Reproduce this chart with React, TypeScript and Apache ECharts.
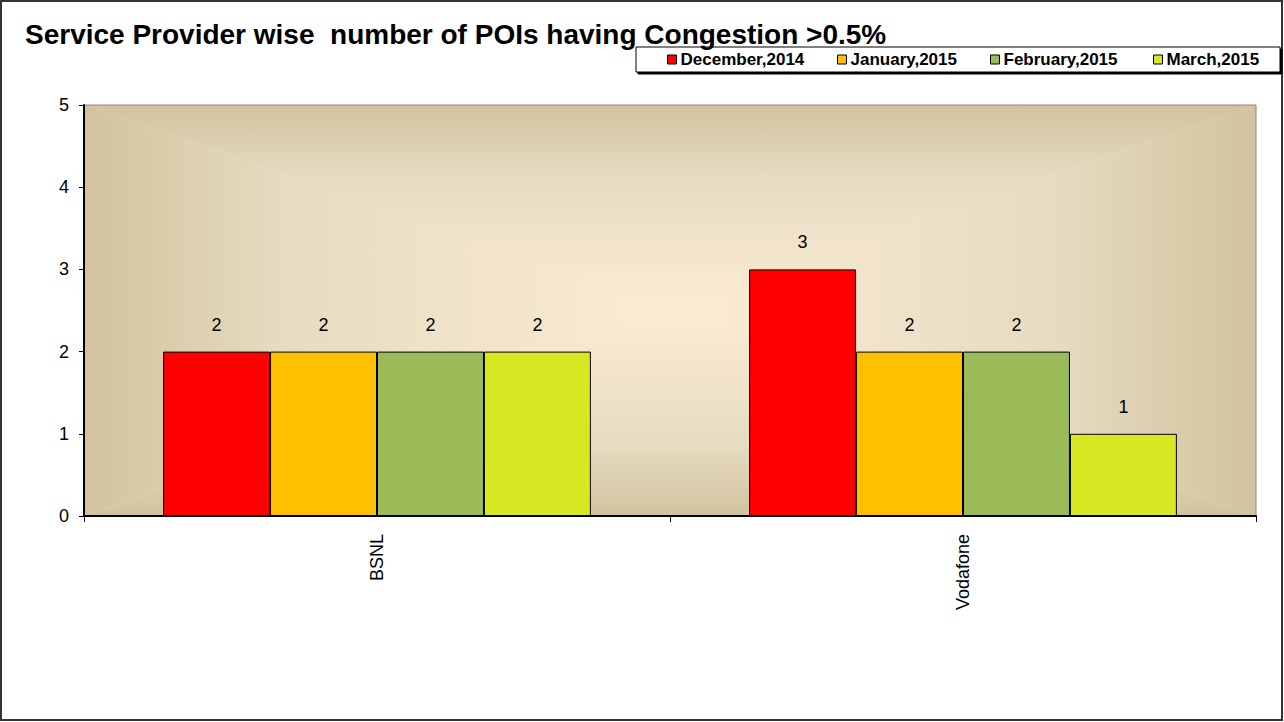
import React, { useEffect, useRef } from "react";
import * as echarts from "echarts";

const titleText = "Service Provider wise  number of POIs having Congestion >0.5%";
const categories = ["BSNL", "Vodafone"];
const seriesNames = ["December,2014", "January,2015", "February,2015", "March,2015"];
const dec2014 = [2, 3];
const jan2015 = [2, 2];
const feb2015 = [2, 2];
const mar2015 = [2, 1];
const seriesValues = [dec2014, jan2015, feb2015, mar2015];
const seriesColors = ["#FF0000", "#FFC000", "#9BBB59", "#D7E823"];
const yTicks = [0, 1, 2, 3, 4, 5];

const FONT = "'Liberation Sans', Arial, sans-serif";

export default function App() {
  const ref = useRef<HTMLDivElement>(null);
  useEffect(() => {
    if (!ref.current) return;
    const chart = echarts.init(ref.current, null, { renderer: "svg" });
    const L = 84, R = 1256, T = 105, B = 516;
    const cx = (L + R) / 2, cy = (T + B) / 2;
    const edge = "#d2c39e";
    const mid = "#e6dcc1";
    const center = "#fcecd4";
    const lg = (x1: number, y1: number, x2: number, y2: number) =>
      new echarts.graphic.LinearGradient(x1, y1, x2, y2, [
        { offset: 0, color: edge },
        { offset: 0.35, color: mid },
        { offset: 1, color: center },
      ], true);
    const legendLefts = [667, 837, 990, 1153];
    chart.setOption({
      animation: false,
      backgroundColor: "#ffffff",
      title: {
        text: titleText,
        left: 20,
        top: 15,
        textStyle: { fontFamily: FONT, fontSize: 28, fontWeight: "bold", color: "#000" },
      },
      legend: seriesNames.map((n, i) => ({
        data: [n],
        left: legendLefts[i],
        top: 51,
        itemWidth: 9,
        itemHeight: 9,
        itemGap: 5,
        icon: "rect",
        padding: 0,
        itemStyle: { borderColor: "#000", borderWidth: 1 },
        textStyle: { fontFamily: FONT, fontSize: 17, fontWeight: "bold", color: "#000", padding: [0, 0, 0, -1] },
        selectedMode: false,
      })),
      graphic: [
        {
          type: "rect", z: -10, silent: true,
          shape: { x: 1, y: 1, width: 1281, height: 719 },
          style: { fill: "none", stroke: "#333", lineWidth: 2 },
        },
        {
          type: "rect", z: -5, silent: true,
          shape: { x: 636, y: 47, width: 644, height: 25 },
          style: { fill: "#fff", stroke: "#000", lineWidth: 1, shadowColor: "#000", shadowOffsetX: 2, shadowOffsetY: 2, shadowBlur: 0 },
        },
        {
          type: "rect", z: -3, silent: true,
          shape: { x: L, y: T, width: R - L, height: B - T },
          style: { fill: "#eee4cb" },
        },
        {
          type: "polygon", z: -1, silent: true,
          shape: { points: [[L, T], [R, T], [cx, cy]] },
          style: { fill: lg(0, T, 0, cy) },
        },
        {
          type: "polygon", z: -1, silent: true,
          shape: { points: [[L, B], [R, B], [cx, cy]] },
          style: { fill: lg(0, B, 0, cy) },
        },
        {
          type: "polygon", z: -1, silent: true,
          shape: { points: [[L, T], [L, B], [cx, cy]] },
          style: { fill: lg(L, 0, cx, 0) },
        },
        {
          type: "polygon", z: -1, silent: true,
          shape: { points: [[R, T], [R, B], [cx, cy]] },
          style: { fill: lg(R, 0, cx, 0) },
        },
      ],
      grid: {
        left: L, right: 1284 - R, top: T, bottom: 722 - B,
        show: true, borderColor: "#8a8a8a", borderWidth: 1, backgroundColor: "transparent",
        containLabel: false,
      },
      xAxis: {
        type: "category",
        data: categories,
        boundaryGap: true,
        axisLine: { show: true, lineStyle: { color: "#000", width: 2 } },
        axisTick: { show: true, length: 6, lineStyle: { color: "#000", width: 1 } },
        axisLabel: { rotate: 90, margin: 18, fontFamily: FONT, fontSize: 18, color: "#000" },
        splitLine: { show: false },
      },
      yAxis: {
        type: "value",
        min: yTicks[0],
        max: yTicks[yTicks.length - 1],
        interval: 1,
        axisLine: { show: true, lineStyle: { color: "#000", width: 2 } },
        axisTick: { show: true, length: 5, lineStyle: { color: "#000", width: 1 } },
        axisLabel: { margin: 15, fontFamily: FONT, fontSize: 18, color: "#000" },
        splitLine: { show: false },
      },
      series: seriesNames.map((n, i) => ({
        name: n,
        type: "bar",
        data: seriesValues[i],
        barGap: "0%",
        barCategoryGap: "27%",
        itemStyle: { color: seriesColors[i], borderColor: "#000", borderWidth: 1 },
        label: {
          show: true, position: "top", distance: 18,
          fontFamily: FONT, fontSize: 18, color: "#000",
        },
      })),
    });
    return () => chart.dispose();
  }, []);
  return (
    <div
      ref={ref}
      style={{ position: "fixed", left: 0, top: 0, width: 1284, height: 722 }}
    />
  );
}
